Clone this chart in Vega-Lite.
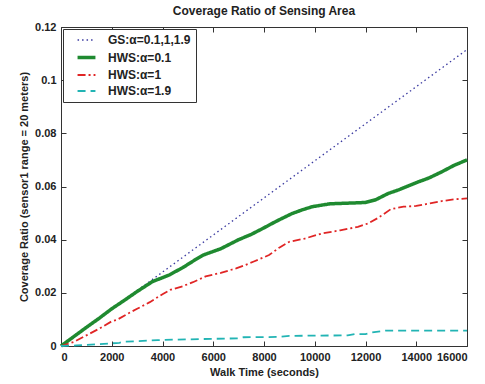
{
  "$schema": "https://vega.github.io/schema/vega-lite/v6.json",
  "width": 406,
  "height": 319,
  "autosize": "none",
  "padding": {"left": 61, "top": 27, "right": 18, "bottom": 38},
  "background": "white",
  "title": {"text": "Coverage Ratio of Sensing Area", "font": "Liberation Sans", "fontSize": 12, "fontWeight": "bold", "color": "#222", "offset": 3},
  "config": {
    "view": {"stroke": "#333", "strokeWidth": 1},
    "axis": {"grid": false, "labelFont": "Liberation Sans", "labelFontWeight": "bold", "labelFontSize": 11, "labelColor": "#222", "titleFont": "Liberation Sans", "titleFontWeight": "bold", "titleFontSize": 11, "titleColor": "#222", "domain": false, "tickColor": "#333", "tickSize": -5, "labelPadding": 10}
  },
  "data": {"values": [
    {"s": "GS:α=0.1,1,1.9", "t": 0, "v": 0},
    {"s": "GS:α=0.1,1,1.9", "t": 4000, "v": 0.0278},
    {"s": "GS:α=0.1,1,1.9", "t": 8000, "v": 0.0557},
    {"s": "GS:α=0.1,1,1.9", "t": 12000, "v": 0.0836},
    {"s": "GS:α=0.1,1,1.9", "t": 16000, "v": 0.1115},
    {"s": "HWS:α=0.1", "t": 0, "v": 0},
    {"s": "HWS:α=0.1", "t": 500, "v": 0.0035},
    {"s": "HWS:α=0.1", "t": 1000, "v": 0.007},
    {"s": "HWS:α=0.1", "t": 1500, "v": 0.0104},
    {"s": "HWS:α=0.1", "t": 2000, "v": 0.014},
    {"s": "HWS:α=0.1", "t": 2500, "v": 0.0172},
    {"s": "HWS:α=0.1", "t": 3000, "v": 0.0205},
    {"s": "HWS:α=0.1", "t": 3600, "v": 0.0242},
    {"s": "HWS:α=0.1", "t": 4260, "v": 0.0267},
    {"s": "HWS:α=0.1", "t": 4800, "v": 0.0295},
    {"s": "HWS:α=0.1", "t": 5300, "v": 0.0325},
    {"s": "HWS:α=0.1", "t": 5600, "v": 0.0342},
    {"s": "HWS:α=0.1", "t": 6300, "v": 0.0366},
    {"s": "HWS:α=0.1", "t": 7000, "v": 0.0400},
    {"s": "HWS:α=0.1", "t": 7500, "v": 0.0420},
    {"s": "HWS:α=0.1", "t": 7950, "v": 0.0442},
    {"s": "HWS:α=0.1", "t": 8500, "v": 0.0470},
    {"s": "HWS:α=0.1", "t": 9100, "v": 0.0498},
    {"s": "HWS:α=0.1", "t": 9500, "v": 0.0512},
    {"s": "HWS:α=0.1", "t": 9900, "v": 0.0524},
    {"s": "HWS:α=0.1", "t": 10600, "v": 0.0535},
    {"s": "HWS:α=0.1", "t": 11500, "v": 0.0538},
    {"s": "HWS:α=0.1", "t": 12000, "v": 0.0540},
    {"s": "HWS:α=0.1", "t": 12400, "v": 0.0550},
    {"s": "HWS:α=0.1", "t": 12900, "v": 0.0574},
    {"s": "HWS:α=0.1", "t": 13300, "v": 0.0587},
    {"s": "HWS:α=0.1", "t": 14100, "v": 0.0618},
    {"s": "HWS:α=0.1", "t": 14500, "v": 0.0632},
    {"s": "HWS:α=0.1", "t": 15000, "v": 0.0655},
    {"s": "HWS:α=0.1", "t": 15500, "v": 0.0680},
    {"s": "HWS:α=0.1", "t": 16000, "v": 0.0700},
    {"s": "HWS:α=1", "t": 0, "v": 0},
    {"s": "HWS:α=1", "t": 500, "v": 0.0015},
    {"s": "HWS:α=1", "t": 1000, "v": 0.004},
    {"s": "HWS:α=1", "t": 1500, "v": 0.0065},
    {"s": "HWS:α=1", "t": 2000, "v": 0.0093},
    {"s": "HWS:α=1", "t": 2200, "v": 0.0098},
    {"s": "HWS:α=1", "t": 2600, "v": 0.0120},
    {"s": "HWS:α=1", "t": 3000, "v": 0.0140},
    {"s": "HWS:α=1", "t": 3500, "v": 0.0165},
    {"s": "HWS:α=1", "t": 4000, "v": 0.0195},
    {"s": "HWS:α=1", "t": 4300, "v": 0.0211},
    {"s": "HWS:α=1", "t": 4800, "v": 0.0225},
    {"s": "HWS:α=1", "t": 5200, "v": 0.0240},
    {"s": "HWS:α=1", "t": 5700, "v": 0.0262},
    {"s": "HWS:α=1", "t": 6300, "v": 0.0275},
    {"s": "HWS:α=1", "t": 6900, "v": 0.0292},
    {"s": "HWS:α=1", "t": 7200, "v": 0.0302},
    {"s": "HWS:α=1", "t": 7600, "v": 0.0318},
    {"s": "HWS:α=1", "t": 8200, "v": 0.0342},
    {"s": "HWS:α=1", "t": 8600, "v": 0.0370},
    {"s": "HWS:α=1", "t": 9000, "v": 0.0392},
    {"s": "HWS:α=1", "t": 9600, "v": 0.0404},
    {"s": "HWS:α=1", "t": 10300, "v": 0.0424},
    {"s": "HWS:α=1", "t": 11000, "v": 0.0435},
    {"s": "HWS:α=1", "t": 11700, "v": 0.0448},
    {"s": "HWS:α=1", "t": 12100, "v": 0.0461},
    {"s": "HWS:α=1", "t": 12500, "v": 0.0482},
    {"s": "HWS:α=1", "t": 13000, "v": 0.0515},
    {"s": "HWS:α=1", "t": 13500, "v": 0.0524},
    {"s": "HWS:α=1", "t": 14000, "v": 0.0527},
    {"s": "HWS:α=1", "t": 14500, "v": 0.0536},
    {"s": "HWS:α=1", "t": 15000, "v": 0.0545},
    {"s": "HWS:α=1", "t": 15500, "v": 0.0552},
    {"s": "HWS:α=1", "t": 16000, "v": 0.0555},
    {"s": "HWS:α=1.9", "t": 0, "v": 0},
    {"s": "HWS:α=1.9", "t": 600, "v": 0.0002},
    {"s": "HWS:α=1.9", "t": 1000, "v": 0.0004},
    {"s": "HWS:α=1.9", "t": 1500, "v": 0.0007},
    {"s": "HWS:α=1.9", "t": 2000, "v": 0.0010},
    {"s": "HWS:α=1.9", "t": 2300, "v": 0.0012},
    {"s": "HWS:α=1.9", "t": 2500, "v": 0.0016},
    {"s": "HWS:α=1.9", "t": 3000, "v": 0.0018},
    {"s": "HWS:α=1.9", "t": 3800, "v": 0.0022},
    {"s": "HWS:α=1.9", "t": 4500, "v": 0.0024},
    {"s": "HWS:α=1.9", "t": 5500, "v": 0.0026},
    {"s": "HWS:α=1.9", "t": 6500, "v": 0.0028},
    {"s": "HWS:α=1.9", "t": 7000, "v": 0.0029},
    {"s": "HWS:α=1.9", "t": 7200, "v": 0.0033},
    {"s": "HWS:α=1.9", "t": 8500, "v": 0.0034},
    {"s": "HWS:α=1.9", "t": 9000, "v": 0.0038},
    {"s": "HWS:α=1.9", "t": 10000, "v": 0.0039},
    {"s": "HWS:α=1.9", "t": 11300, "v": 0.0040},
    {"s": "HWS:α=1.9", "t": 11600, "v": 0.0045},
    {"s": "HWS:α=1.9", "t": 12000, "v": 0.0045},
    {"s": "HWS:α=1.9", "t": 12200, "v": 0.0050},
    {"s": "HWS:α=1.9", "t": 12800, "v": 0.0058},
    {"s": "HWS:α=1.9", "t": 16000, "v": 0.0058}
  ]},
  "layer": [
    {
      "mark": {"type": "line", "opacity": 0},
      "encoding": {
        "x": {"field": "t", "type": "quantitative", "scale": {"domain": [0, 16000], "nice": false}, "axis": {"orient": "top", "labels": false, "title": null, "values": [0,2000,4000,6000,8000,10000,12000,14000,16000]}},
        "y": {"field": "v", "type": "quantitative", "scale": {"domain": [0, 0.12], "nice": false}, "axis": {"orient": "right", "labels": false, "title": null, "values": [0,0.02,0.04,0.06,0.08,0.1,0.12]}},
        "detail": {"field": "s"}
      }
    },
    {
      "mark": {"type": "line", "strokeCap": "butt"},
      "encoding": {
        "x": {"field": "t", "type": "quantitative", "scale": {"domain": [0, 16000], "nice": false}, "axis": {"title": "Walk Time (seconds)", "format": "d", "values": [0,2000,4000,6000,8000,10000,12000,14000,16000], "titlePadding": 4, "labelOverlap": false}},
        "y": {"field": "v", "type": "quantitative", "scale": {"domain": [0, 0.12], "nice": false}, "axis": {"title": "Coverage Ratio (sensor1 range = 20 meters)", "format": ".2~f", "values": [0,0.02,0.04,0.06,0.08,0.1,0.12], "titlePadding": 5}},
        "color": {"field": "s", "type": "nominal", "scale": {"domain": ["GS:α=0.1,1,1.9", "HWS:α=0.1", "HWS:α=1", "HWS:α=1.9"], "range": ["#3a3aa0", "#1f8a30", "#e02525", "#22b4b4"]},
          "legend": {"title": null, "orient": "top-left", "offset": 2, "strokeColor": "#333", "fillColor": "white", "padding": 5, "labelFont": "Liberation Sans", "labelFontWeight": "bold", "labelFontSize": 12, "labelColor": "#222", "symbolType": "M-2,0H2", "symbolSize": 80, "rowPadding": 4, "labelOffset": 15, "symbolOffset": 12}},
        "strokeDash": {"field": "s", "type": "nominal", "scale": {"domain": ["GS:α=0.1,1,1.9", "HWS:α=0.1", "HWS:α=1", "HWS:α=1.9"], "range": [[1.5, 3], [1, 0], [8, 3, 2, 3], [8, 5]]}, "legend": {"title": null}},
        "strokeWidth": {"field": "s", "type": "nominal", "scale": {"type": "ordinal", "domain": ["GS:α=0.1,1,1.9", "HWS:α=0.1", "HWS:α=1", "HWS:α=1.9"], "range": [1.3, 3.5, 1.8, 1.8]}, "legend": {"title": null}}
      }
    }
  ],
  "resolve": {"axis": {"x": "independent", "y": "independent"}}
}
